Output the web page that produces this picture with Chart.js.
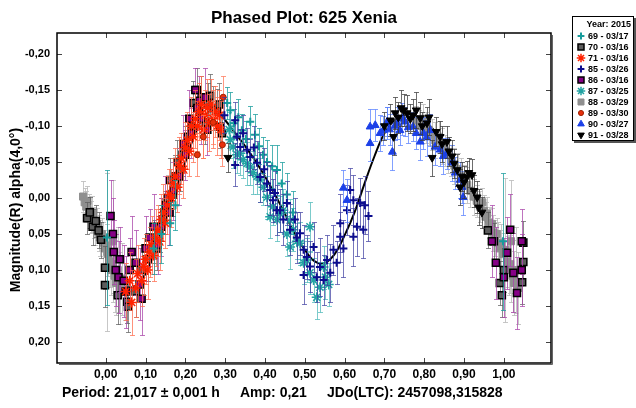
<!DOCTYPE html>
<html>
<head>
<meta charset="utf-8">
<script src="https://cdn.jsdelivr.net/npm/chart.js@4.4.1/dist/chart.umd.min.js"></script>
<style>
  html, body { margin:0; padding:0; background:#fff; }
  #wrap { width:636px; height:408px; }
</style>
</head>
<body>
<div id="wrap"><canvas id="c" width="636" height="408"></canvas></div>
<script>
// ---- data: [phase, magnitude, error] ----
const s69 = [[0.003,0.055,0.094],[0.998,0.06,0.095],[0.12,0.07,0.035],[0.14,0.05,0.04],[0.162,0.035,0.03],[0.175,0.01,0.035],
  [0.305,-0.132,0.022],[0.313,-0.122,0.025],[0.322,-0.104,0.02],[0.333,-0.112,0.025],[0.342,-0.094,0.022],[0.352,-0.082,0.025],
  [0.363,-0.106,0.022],[0.375,-0.088,0.028],[0.385,-0.072,0.025],[0.395,-0.060,0.025],[0.405,-0.050,0.03],[0.418,-0.044,0.03],
  [0.43,-0.039,0.035],[0.442,-0.020,0.03],[0.455,-0.005,0.03],[0.47,0.02,0.03]];
const s70 = [[-0.047,0.028,0.022],[-0.040,0.02,0.022],[-0.033,0.040,0.025],[-0.025,0.032,0.022],[-0.018,0.045,0.025],[-0.012,0.058,0.025],
  [-0.002,0.097,0.03],[-0.002,0.121,0.03],[0.054,0.144,0.03],[0.056,0.151,0.035],[0.03,0.135,0.04],[0.075,0.13,0.035],[0.09,0.1,0.035],
  [0.105,0.085,0.03],[0.12,0.06,0.03],[0.128,0.07,0.03],[0.135,0.045,0.03],[0.142,0.03,0.03],[0.148,0.02,0.03],[0.155,0.0,0.03],
  [0.162,-0.025,0.03],[0.168,-0.005,0.03],[0.175,-0.03,0.03],[0.18,-0.05,0.03],[0.187,-0.04,0.03],[0.193,-0.06,0.03],[0.2,-0.07,0.03],
  [0.207,-0.085,0.03],[0.215,-0.1,0.03],[0.22,-0.132,0.03],[0.229,-0.15,0.03],[0.235,-0.12,0.03],[0.24,-0.14,0.03],[0.25,-0.105,0.03],
  [0.258,-0.13,0.03],[0.262,-0.142,0.03],[0.27,-0.125,0.03],[0.279,-0.122,0.03],[0.285,-0.13,0.03],[0.287,-0.099,0.03],[0.292,-0.09,0.03],
  [0.96,0.045,0.025],[0.975,0.06,0.025],[0.99,0.118,0.03],[0.995,0.135,0.03],[1.0,0.1,0.03],[1.049,0.062,0.03],[1.049,0.089,0.03],[1.046,0.117,0.03]];
const s71 = [[0.05,0.13,0.04],[0.06,0.115,0.04],[0.065,0.145,0.045],[0.075,0.125,0.04],[0.08,0.105,0.04],[0.09,0.115,0.035],[0.095,0.095,0.04],
  [0.1,0.085,0.035],[0.105,0.1,0.04],[0.11,0.075,0.035],[0.115,0.065,0.04],[0.12,0.08,0.035],[0.125,0.055,0.04],[0.13,0.045,0.035],
  [0.135,0.06,0.04],[0.14,0.03,0.035],[0.145,0.02,0.04],[0.15,0.035,0.035],[0.155,0.01,0.04],[0.16,-0.005,0.035],[0.165,0.0,0.04],
  [0.17,-0.02,0.035],[0.175,-0.03,0.04],[0.18,-0.015,0.035],[0.185,-0.045,0.04],[0.19,-0.055,0.035],[0.195,-0.04,0.04],[0.2,-0.07,0.035],
  [0.205,-0.08,0.04],[0.21,-0.065,0.035],[0.215,-0.1,0.04],[0.22,-0.085,0.035],[0.225,-0.11,0.04],[0.23,-0.1,0.035],[0.235,-0.12,0.04],
  [0.24,-0.13,0.04],[0.245,-0.095,0.04],[0.25,-0.115,0.035],[0.255,-0.125,0.04],[0.26,-0.105,0.04],[0.265,-0.13,0.035],[0.27,-0.11,0.04],
  [0.275,-0.12,0.035],[0.28,-0.1,0.04],[0.285,-0.115,0.035],[0.29,-0.095,0.04]];
const s85 = [[0.298,-0.115,0.025],[0.325,-0.108,0.025],[0.33,-0.085,0.03],[0.338,-0.071,0.025],[0.325,-0.046,0.03],[0.345,-0.09,0.025],
  [0.355,-0.067,0.03],[0.363,-0.057,0.025],[0.372,-0.07,0.03],[0.38,-0.049,0.03],[0.388,-0.029,0.035],[0.398,-0.04,0.03],[0.405,-0.02,0.03],
  [0.413,-0.011,0.035],[0.42,0.003,0.03],[0.425,-0.007,0.03],[0.43,0.017,0.035],[0.438,0.017,0.03],[0.446,0.03,0.035],[0.455,0.007,0.03],
  [0.463,0.044,0.035],[0.475,0.03,0.03],[0.48,0.055,0.035],[0.488,0.049,0.03],[0.497,0.072,0.035],[0.497,0.107,0.04],[0.505,0.082,0.03],
  [0.513,0.095,0.035],[0.522,0.068,0.035],[0.53,0.11,0.035],[0.538,0.096,0.04],[0.547,0.114,0.035],[0.556,0.086,0.035],[0.564,0.104,0.04],
  [0.572,0.072,0.035],[0.58,0.09,0.03],[0.589,0.054,0.035],[0.589,0.035,0.04],[0.597,0.07,0.04],[0.606,0.017,0.035],[0.614,-0.011,0.03],
  [0.622,0.003,0.035],[0.622,0.054,0.04],[0.631,0.04,0.04],[0.639,0.007,0.035],[0.647,0.044,0.04],[0.651,0.01,0.04],[0.66,0.025,0.035]];
const s86 = [[0.012,0.025,0.05],[0.018,0.05,0.05],[0.02,0.075,0.045],[0.025,0.1,0.05],[0.035,0.085,0.045],[0.032,0.11,0.05],[0.045,0.115,0.05],
  [0.05,0.13,0.05],[0.06,0.1,0.045],[0.065,0.075,0.05],[0.075,0.09,0.045],[0.085,0.12,0.05],[0.09,0.14,0.05],[0.1,0.07,0.045],[0.11,0.055,0.04],
  [0.12,0.04,0.045],[0.13,0.065,0.04],[0.14,0.04,0.04],[0.15,0.01,0.04],[0.16,0.02,0.045],[0.17,-0.01,0.04],[0.185,-0.03,0.04],
  [0.195,-0.075,0.04],[0.2,-0.06,0.035],[0.21,-0.11,0.04],[0.215,-0.09,0.035],[0.225,-0.15,0.03],[0.23,-0.125,0.03],[0.235,-0.135,0.035],
  [0.24,-0.11,0.035],[0.25,-0.14,0.04],[0.255,-0.095,0.035],
  [0.97,0.06,0.05],[0.98,0.09,0.05],[1.0,0.11,0.055],[1.008,0.076,0.05],[1.016,0.044,0.05],[1.024,0.104,0.055],[1.033,0.132,0.05],[1.045,0.06,0.045],[1.045,0.1,0.05]];
const s87 = [[0.31,-0.095,0.025],[0.313,-0.081,0.025],[0.32,-0.071,0.03],[0.33,-0.06,0.025],[0.338,-0.062,0.03],[0.345,-0.053,0.025],
  [0.355,-0.048,0.03],[0.363,-0.043,0.025],[0.37,-0.035,0.03],[0.38,-0.03,0.025],[0.388,-0.025,0.03],[0.396,-0.015,0.025],[0.405,-0.001,0.03],
  [0.413,0.026,0.03],[0.42,0.012,0.025],[0.43,0.03,0.03],[0.438,0.022,0.025],[0.446,0.017,0.03],[0.455,0.05,0.03],[0.463,0.031,0.03],
  [0.463,0.068,0.03],[0.471,0.044,0.03],[0.48,0.06,0.025],[0.488,0.063,0.03],[0.497,0.09,0.03],[0.505,0.086,0.03],[0.513,0.04,0.035],
  [0.513,0.104,0.03],[0.522,0.114,0.03],[0.53,0.138,0.03],[0.538,0.124,0.035],[0.547,0.096,0.03],[0.552,0.11,0.03],[0.56,0.12,0.03]];
const s88 = [[-0.057,-0.002,0.022],[-0.053,0.006,0.02],[-0.049,0.012,0.022],[-0.046,0.004,0.02],[-0.042,0.018,0.024],[-0.038,0.026,0.022],
  [-0.034,0.022,0.025],[-0.030,0.034,0.022],[-0.026,0.040,0.025],[-0.022,0.036,0.022],[-0.018,0.048,0.025],[-0.014,0.055,0.025],
  [-0.010,0.050,0.022],[-0.006,0.062,0.028],[-0.002,0.070,0.025],[0.002,0.066,0.03],[0.004,0.075,0.11],[0.006,0.078,0.03],[0.010,0.088,0.035],
  [0.014,0.100,0.035],[0.018,0.060,0.085],[0.018,0.092,0.04],[0.022,0.108,0.05],[0.026,0.118,0.045],[0.030,0.100,0.06],[0.036,0.125,0.05],
  [0.042,0.112,0.05],[0.048,0.130,0.04],
  [0.780,-0.108,0.02],[0.788,-0.100,0.022],[0.796,-0.110,0.02],[0.804,-0.098,0.022],[0.812,-0.094,0.02],[0.820,-0.088,0.022],[0.828,-0.080,0.025],
  [0.836,-0.085,0.022],[0.844,-0.072,0.025],[0.852,-0.066,0.022],[0.860,-0.060,0.025],[0.868,-0.052,0.022],[0.876,-0.045,0.025],[0.884,-0.040,0.022],
  [0.892,-0.030,0.025],[0.900,-0.024,0.022],[0.908,-0.018,0.025],[0.916,-0.010,0.022],[0.924,-0.002,0.025],[0.932,0.004,0.022],[0.940,0.012,0.022],
  [0.946,0.006,0.02],[0.950,0.018,0.022],[0.954,0.026,0.02],[0.958,0.022,0.024],[0.962,0.034,0.022],[0.966,0.040,0.025],[0.970,0.036,0.022],
  [0.974,0.048,0.025],[0.978,0.055,0.025],[0.982,0.050,0.022],[0.986,0.062,0.028],[0.990,0.070,0.025],[0.994,0.066,0.03],[0.998,0.078,0.03],
  [1.004,0.072,0.10],[1.008,0.088,0.035],[1.012,0.100,0.035],[1.016,0.092,0.04],[1.018,0.060,0.085],[1.022,0.108,0.05],[1.026,0.118,0.045],
  [1.030,0.100,0.06],[1.036,0.125,0.05]];
const s89 = [[0.23,-0.06,0.03],[0.245,-0.085,0.03],[0.27,-0.105,0.03],[0.293,-0.074,0.03],[0.295,-0.14,0.03]];
const s90 = [[0.597,-0.014,0.025],[0.606,0.003,0.03],[0.664,-0.099,0.025],[0.664,-0.076,0.025],[0.677,-0.101,0.022],[0.689,-0.09,0.025],
  [0.697,-0.094,0.02],[0.707,-0.104,0.022],[0.707,-0.106,0.02],[0.713,-0.095,0.022],[0.72,-0.064,0.025],[0.726,-0.1,0.02],[0.732,-0.104,0.022],
  [0.739,-0.094,0.02],[0.745,-0.11,0.022],[0.752,-0.106,0.02],[0.76,-0.098,0.022],[0.772,-0.099,0.02],[0.78,-0.09,0.022],[0.79,-0.078,0.025],
  [0.798,-0.09,0.022],[0.806,-0.084,0.025],[0.815,-0.094,0.022],[0.827,-0.071,0.025],[0.84,-0.067,0.022],[0.848,-0.058,0.025],[0.857,-0.062,0.022],
  [0.87,-0.049,0.025],[0.878,-0.035,0.022],[0.89,-0.025,0.025],[0.895,-0.015,0.022],[0.898,-0.001,0.025]];
const s91 = [[0.307,-0.056,0.02],[0.70,-0.10,0.02],[0.715,-0.108,0.022],[0.723,-0.085,0.025],[0.727,-0.118,0.022],[0.735,-0.112,0.022],
  [0.742,-0.125,0.025],[0.748,-0.122,0.022],[0.757,-0.118,0.025],[0.765,-0.11,0.02],[0.772,-0.115,0.022],[0.78,-0.122,0.025],[0.79,-0.111,0.022],
  [0.795,-0.1,0.02],[0.807,-0.104,0.022],[0.812,-0.112,0.025],[0.82,-0.056,0.025],[0.83,-0.092,0.02],[0.84,-0.085,0.022],[0.845,-0.075,0.025],
  [0.857,-0.078,0.022],[0.862,-0.065,0.02],[0.87,-0.058,0.022],[0.875,-0.048,0.02],[0.883,-0.039,0.022],[0.89,-0.015,0.025],[0.895,-0.03,0.02],
  [0.9,-0.022,0.022],[0.907,-0.029,0.022],[0.912,-0.035,0.02],[0.92,-0.032,0.022],[0.925,-0.01,0.022],[0.933,-0.001,0.022],[0.937,0.013,0.025],[0.945,0.02,0.022]];

// fitted curve
const curvePhase = [-0.05,-0.025,0,0.025,0.05,0.075,0.1,0.125,0.15,0.175,0.2,0.225,0.25,0.275,0.3,0.325,0.35,0.375,0.4,0.425,0.45,0.475,
  0.5,0.525,0.55,0.575,0.6,0.625,0.65,0.675,0.7,0.725,0.75,0.775,0.8,0.825,0.85,0.875,0.9,0.925,0.95,0.975,1.0,1.025,1.05];
const curveMag = [0.01,0.03,0.065,0.1,0.122,0.122,0.105,0.07,0.03,-0.01,-0.05,-0.09,-0.115,-0.122,-0.108,-0.09,-0.072,-0.052,-0.03,-0.005,
  0.022,0.05,0.072,0.088,0.09,0.078,0.052,0.02,-0.02,-0.058,-0.09,-0.108,-0.115,-0.115,-0.108,-0.094,-0.075,-0.05,-0.024,0.004,0.028,0.055,0.08,0.105,0.122];

const xTicks = [0,0.1,0.2,0.3,0.4,0.5,0.6,0.7,0.8,0.9,1.0];
const yTicks = [-0.2,-0.15,-0.1,-0.05,0,0.05,0.1,0.15,0.2];
const legendLabels = ['69 - 03/17','70 - 03/16','71 - 03/16','85 - 03/26','86 - 03/16','87 - 03/25','88 - 03/29','89 - 03/30','90 - 03/27','91 - 03/28'];
const legendTitle = 'Year: 2015';
const titleText = 'Phased Plot: 625 Xenia';
const yTitle = 'Magnitude(R) alpha(4,0°)';
const footer = ['Period: 21,017 ± 0,001 h', 'Amp: 0,21', 'JDo(LTC): 2457098,315828'];

const FONT = "'Liberation Sans', Arial, sans-serif";
const fmt = v => Math.abs(v) < 1e-9 ? '0,00' : v.toFixed(2).replace('.', ',');

// marker styles per session (same order as legendLabels)
const styles = [
  { pointStyle:'cross', radius:4,   fill:'#179c9c', stroke:'#179c9c', bw:2,   err:'rgba(23,156,156,0.75)' },
  { pointStyle:'rect',  radius:5,   fill:'#5c5c5c', stroke:'#000000', bw:1.5, err:'rgba(90,90,90,0.7)' },
  { pointStyle:'star',  radius:5,   fill:'#ff2200', stroke:'#ff2200', bw:1.5, err:'rgba(255,110,80,0.75)' },
  { pointStyle:'cross', radius:4,   fill:'#0c0c8e', stroke:'#0c0c8e', bw:2,   err:'rgba(60,60,160,0.7)' },
  { pointStyle:'rect',  radius:5,   fill:'#860086', stroke:'#000000', bw:1.5, err:'rgba(170,70,170,0.75)' },
  { pointStyle:'star',  radius:5,   fill:'#22a3a3', stroke:'#22a3a3', bw:1.5, err:'rgba(80,185,185,0.75)' },
  { pointStyle:'rect',  radius:5,   fill:'#8f8f8f', stroke:'#8f8f8f', bw:1,   err:'rgba(185,185,185,0.8)' },
  { pointStyle:'circle',radius:3,   fill:'#e8300c', stroke:'#a02000', bw:1,   err:'rgba(255,120,90,0.75)' },
  { pointStyle:'triangle',radius:4.5,fill:'#1c40e8',stroke:'#1c40e8', bw:1,   err:'rgba(90,130,255,0.75)' },
  { pointStyle:'triangle',radius:4.5,fill:'#000000',stroke:'#000000', bw:1,   err:'rgba(60,60,60,0.75)', rot:180 }
];
const series = [s69, s70, s71, s85, s86, s87, s88, s89, s90, s91];
// drawing order, back to front
const drawOrder = [6, 1, 4, 2, 7, 5, 0, 3, 8, 9];

const datasets = series.map((s, i) => ({
  label: legendLabels[i],
  data: s.map(p => ({ x: p[0], y: p[1] })),
  errs: s.map(p => p[2]),
  errColor: styles[i].err,
  pointStyle: styles[i].pointStyle,
  pointRadius: styles[i].radius,
  pointRotation: styles[i].rot || 0,
  backgroundColor: styles[i].fill,
  borderColor: styles[i].stroke,
  borderWidth: styles[i].bw,
  showLine: false,
  order: 50 - drawOrder.indexOf(i)
}));
datasets.push({
  label: 'fit', data: curvePhase.map((p, i) => ({ x: p, y: curveMag[i] })),
  showLine: true, pointRadius: 0, borderColor: '#000', borderWidth: 2, tension: 0.4, order: 100
});

const errorBars = {
  id: 'errorBars',
  beforeDatasetDraw(chart, args) {
    const ds = chart.data.datasets[args.index];
    if (!ds.errs) return;
    const ctx = chart.ctx, xs = chart.scales.x, ys = chart.scales.y, a = chart.chartArea;
    ctx.save();
    ctx.beginPath(); ctx.rect(a.left, a.top, a.right - a.left, a.bottom - a.top); ctx.clip();
    ctx.strokeStyle = ds.errColor; ctx.lineWidth = 1;
    ds.data.forEach((p, k) => {
      const x = Math.round(xs.getPixelForValue(p.x)) + 0.5;
      const y1 = Math.round(ys.getPixelForValue(p.y - ds.errs[k])) + 0.5;
      const y2 = Math.round(ys.getPixelForValue(p.y + ds.errs[k])) + 0.5;
      ctx.beginPath();
      ctx.moveTo(x, y1); ctx.lineTo(x, y2);
      ctx.moveTo(x - 2.5, y1); ctx.lineTo(x + 2.5, y1);
      ctx.moveTo(x - 2.5, y2); ctx.lineTo(x + 2.5, y2);
      ctx.stroke();
    });
    ctx.restore();
  }
};

const decorations = {
  id: 'decorations',
  afterDraw(chart) {
    const ctx = chart.ctx, a = chart.chartArea, xs = chart.scales.x, ys = chart.scales.y;
    ctx.save();
    // ticks inside the frame
    ctx.strokeStyle = '#444'; ctx.lineWidth = 1;
    xTicks.forEach(v => {
      const x = Math.round(xs.getPixelForValue(v)) + 0.5;
      ctx.beginPath();
      ctx.moveTo(x, a.bottom); ctx.lineTo(x, a.bottom - 5);
      ctx.moveTo(x, a.top); ctx.lineTo(x, a.top + 5);
      ctx.stroke();
    });
    yTicks.forEach(v => {
      const y = Math.round(ys.getPixelForValue(v)) + 0.5;
      ctx.beginPath();
      ctx.moveTo(a.left, y); ctx.lineTo(a.left + 5, y);
      ctx.moveTo(a.right, y); ctx.lineTo(a.right - 5, y);
      ctx.stroke();
    });
    // frame
    ctx.strokeStyle = '#000'; ctx.lineWidth = 1.5;
    ctx.strokeRect(a.left, a.top, a.right - a.left, a.bottom - a.top);
    ctx.strokeStyle = '#666'; ctx.lineWidth = 1;
    ctx.beginPath();
    ctx.moveTo(a.right + 1.5, a.top + 2); ctx.lineTo(a.right + 1.5, a.bottom + 1.5); ctx.lineTo(a.left + 2, a.bottom + 1.5);
    ctx.stroke();

    // title
    ctx.fillStyle = '#000';
    ctx.textAlign = 'center'; ctx.textBaseline = 'alphabetic';
    ctx.font = 'bold 17px ' + FONT;
    ctx.fillText(titleText, (a.left + a.right) / 2, 23);

    // y title
    ctx.save();
    ctx.translate(16, 210); ctx.rotate(-Math.PI / 2);
    ctx.font = 'bold 14px ' + FONT;
    ctx.textBaseline = 'middle';
    ctx.fillText(yTitle, 0, 0);
    ctx.restore();

    // footer
    ctx.font = 'bold 14px ' + FONT;
    ctx.textAlign = 'left'; ctx.textBaseline = 'alphabetic';
    ctx.fillText(footer[0], 62, 397);
    ctx.fillText(footer[1], 240, 397);
    ctx.fillText(footer[2], 327, 397);

    // legend box
    const bx = 572, by = 16, bw = 62, bh = 125;
    ctx.fillStyle = '#555';
    ctx.fillRect(bx + 2, by + 2, bw, bh);
    ctx.fillStyle = '#fff';
    ctx.fillRect(bx, by, bw, bh);
    ctx.strokeStyle = '#000'; ctx.lineWidth = 1;
    ctx.strokeRect(bx + 0.5, by + 0.5, bw - 1, bh - 1);
    ctx.fillStyle = '#000';
    ctx.font = 'bold 9px ' + FONT;
    ctx.textAlign = 'right'; ctx.textBaseline = 'middle';
    ctx.fillText(legendTitle, bx + bw - 3, by + 9);
    legendLabels.forEach((lab, i) => {
      const y = 36 + i * 11;
      const st = styles[i];
      ctx.save();
      ctx.fillStyle = st.fill; ctx.strokeStyle = st.stroke; ctx.lineWidth = st.bw;
      Chart.helpers.drawPoint(ctx, { pointStyle: st.pointStyle, rotation: st.rot || 0, radius: st.radius * 0.85, borderWidth: st.bw }, 581, y);
      ctx.restore();
      ctx.fillStyle = '#000';
      ctx.textAlign = 'left';
      ctx.fillText(lab, 588, y + 0.5);
    });
    ctx.restore();
  }
};

new Chart(document.getElementById('c'), {
  type: 'scatter',
  data: { datasets },
  options: {
    responsive: false, animation: false, events: [],
    layout: { padding: { top: 33, right: 85, left: 0, bottom: 0 } },
    plugins: { legend: { display: false }, tooltip: { enabled: false }, title: { display: false } },
    scales: {
      x: {
        type: 'linear', min: -0.1225, max: 1.1185,
        grid: { display: false, drawTicks: false }, border: { display: false },
        afterBuildTicks: s => { s.ticks = xTicks.map(v => ({ value: v })); },
        afterFit: s => { s.height = 45; },
        ticks: { padding: 4, color: '#000', font: { family: FONT, weight: 'bold', size: 12 }, callback: v => fmt(v), maxRotation: 0, autoSkip: false }
      },
      y: {
        type: 'linear', reverse: true, min: -0.2292, max: 0.2292,
        grid: { display: false, drawTicks: false }, border: { display: false },
        afterBuildTicks: s => { s.ticks = yTicks.map(v => ({ value: v })); },
        afterFit: s => { s.width = 57; },
        ticks: { padding: 7, color: '#000', font: { family: FONT, weight: 'bold', size: 11 }, callback: v => fmt(v), autoSkip: false }
      }
    }
  },
  plugins: [errorBars, decorations]
});
</script>
</body>
</html>
